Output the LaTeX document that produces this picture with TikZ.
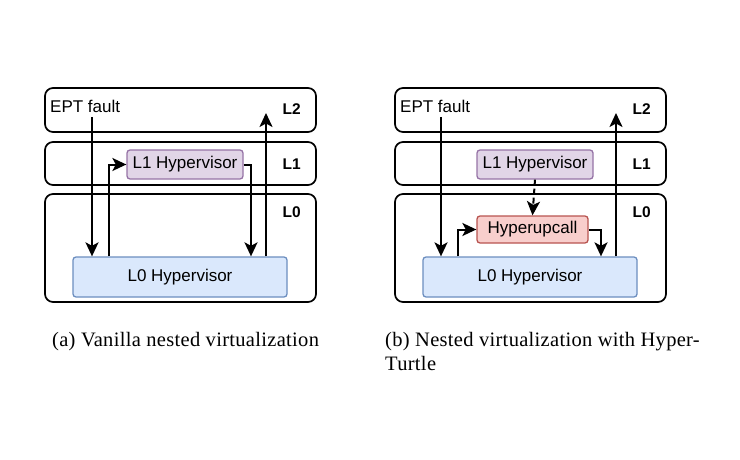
\documentclass[tikz,border=0pt]{standalone}
\usepackage{fontspec}
\setmainfont{Liberation Serif}
\setsansfont{Liberation Sans}
\usetikzlibrary{arrows.meta}
\definecolor{purfill}{HTML}{E1D5E7}
\definecolor{purdraw}{HTML}{9673A6}
\definecolor{bluefill}{HTML}{DAE8FC}
\definecolor{bluedraw}{HTML}{6C8EBF}
\definecolor{redfill}{HTML}{F8CECC}
\definecolor{reddraw}{HTML}{B85450}
\begin{document}
\begin{tikzpicture}[x=1pt,y=-1pt,
  layer/.style={draw=black,line width=1.7pt,rounded corners=8pt,minimum width=271pt,inner sep=0pt},
  hyp/.style={draw,line width=1.3pt,rounded corners=3pt,inner sep=0pt,font=\sffamily\fontsize{17}{19}\selectfont},
  lbl/.style={font=\sffamily\bfseries\fontsize{15.5}{17}\selectfont,anchor=east,inner sep=0pt},
  txt/.style={font=\sffamily\fontsize{17}{19}\selectfont,anchor=west,inner sep=0pt},
  arr/.style={line width=2pt,-{Stealth[length=14pt,width=13pt,inset=3.5pt]}},
  dsh/.style={dash pattern=on 6pt off 3pt},
  captext/.style={font=\fontsize{20.5}{24}\selectfont\addfontfeature{LetterSpace=1.5},anchor=north west,inner sep=0pt,align=left}]
\useasboundingbox (0,0) rectangle (740,460);
% ---------- panel (a)
\node[layer,minimum height=44pt] (aL2) at (180.5,110) {};
\node[layer,minimum height=43pt] (aL1) at (180.5,163.5) {};
\node[layer,minimum height=108pt] (aL0) at (180.5,248) {};
\node[lbl] (aL2t) at (301,109) {L2};
\node[lbl] (aL1t) at (301,164) {L1};
\node[lbl] (aL0t) at (301,212) {L0};
\node[txt] (aept) at (50,106) {EPT fault};
\node[hyp,fill=purfill,draw=purdraw,minimum width=116pt,minimum height=29pt] (al1h) at (185,164.5) {L1 Hypervisor};
\node[hyp,fill=bluefill,draw=bluedraw,minimum width=214pt,minimum height=40pt] (al0h) at (180,277) {L0 Hypervisor};
\coordinate (aeptS) at (92,117);
\coordinate (aup1) at (109,0);
\coordinate (adn1) at (251,0);
\coordinate (aup2) at (266,113);
\draw[arr] (aeptS) -- (aeptS |- al0h.north);
\draw[arr] (aup1 |- al0h.north) -- (aup1 |- al1h.west) -- (al1h.west);
\draw[arr] (al1h.east) -- (adn1 |- al1h.east) -- (adn1 |- al0h.north);
\draw[arr] (aup2 |- al0h.north) -- (aup2);
\node[captext] (acap) at (52,332) {(a) Vanilla nested virtualization};
% ---------- panel (b)
\node[layer,minimum height=44pt] (bL2) at (530.5,110) {};
\node[layer,minimum height=43pt] (bL1) at (530.5,163.5) {};
\node[layer,minimum height=108pt] (bL0) at (530.5,248) {};
\node[lbl] (bL2t) at (651,109) {L2};
\node[lbl] (bL1t) at (651,164) {L1};
\node[lbl] (bL0t) at (651,212) {L0};
\node[txt] (bept) at (400,106) {EPT fault};
\node[hyp,fill=purfill,draw=purdraw,minimum width=116pt,minimum height=29pt] (bl1h) at (535,164.5) {L1 Hypervisor};
\node[hyp,fill=redfill,draw=reddraw,minimum width=111pt,minimum height=27pt] (bhuc) at (532.5,229.5) {Hyperupcall};
\node[hyp,fill=bluefill,draw=bluedraw,minimum width=214pt,minimum height=40pt] (bl0h) at (530,277) {L0 Hypervisor};
\coordinate (beptS) at (441,117);
\coordinate (bup1) at (458,0);
\coordinate (bdn1) at (601,0);
\coordinate (bup2) at (616,113);
\draw[arr,dsh] (bl1h.south) -- (bhuc.north);
\draw[arr] (beptS) -- (beptS |- bl0h.north);
\draw[arr] (bup1 |- bl0h.north) -- (bup1 |- bhuc.west) -- (bhuc.west);
\draw[arr] (bhuc.east) -- (bdn1 |- bhuc.east) -- (bdn1 |- bl0h.north);
\draw[arr] (bup2 |- bl0h.north) -- (bup2);
\node[captext] (bcap) at (385,332) {(b) Nested virtualization with Hyper-\\Turtle};
\end{tikzpicture}
\end{document}
